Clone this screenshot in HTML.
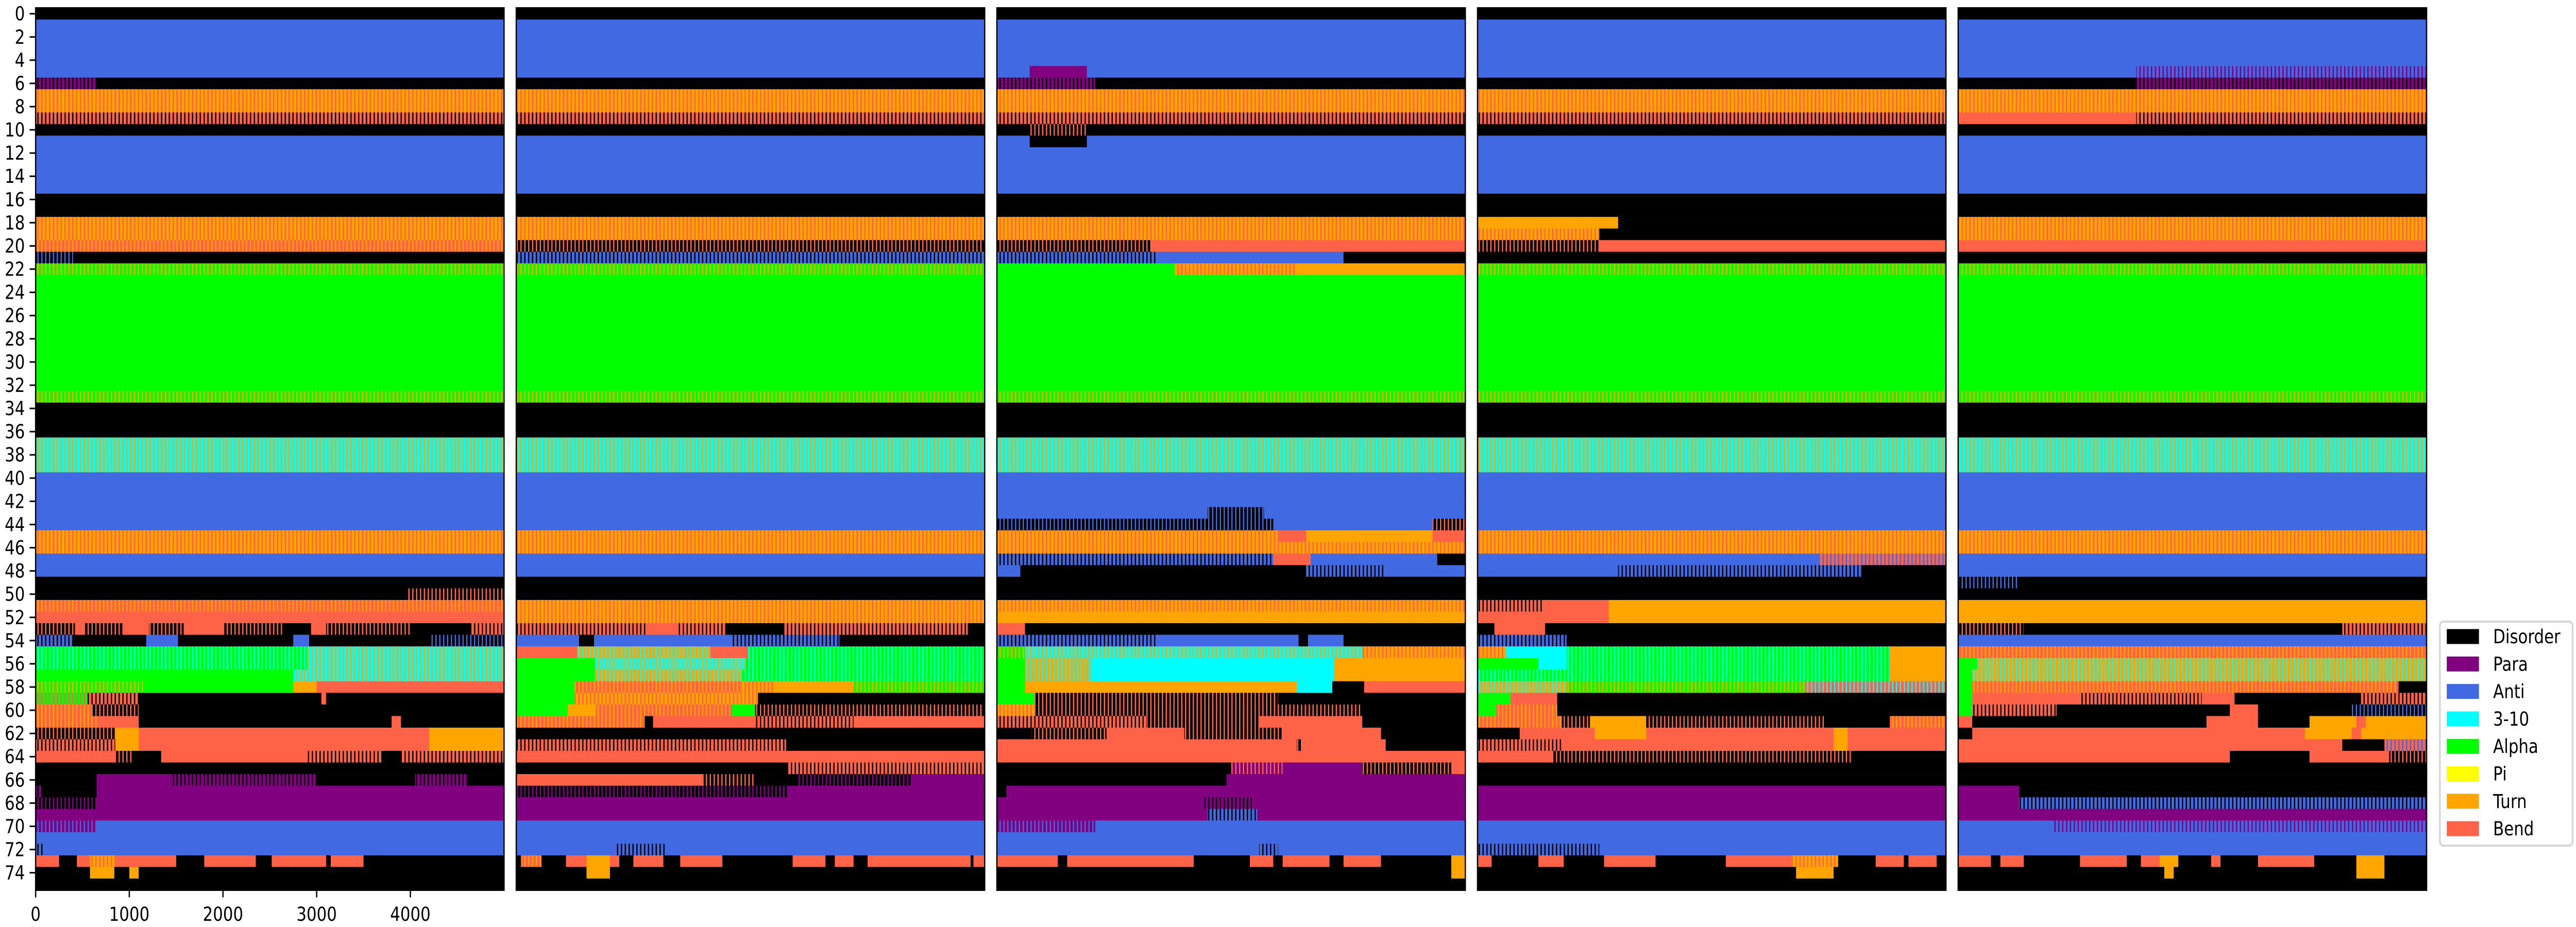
<!DOCTYPE html>
<html><head><meta charset="utf-8"><style>
html,body{margin:0;padding:0;background:#fff;overflow:hidden;width:100%;height:100%;}
svg{display:block;width:100vw;height:100vh;}
text{font-family:"DejaVu Sans","Liberation Sans",sans-serif;}
</style></head><body>
<svg id="chart" viewBox="0 0 6000 1800" preserveAspectRatio="none" xmlns="http://www.w3.org/2000/svg">
<defs id="defs"></defs>
<g id="panels"></g>
<g id="legend">
  <rect x="5683" y="1207" width="309" height="435" rx="8" fill="#fff" stroke="#d6d6d6" stroke-width="4"/>
</g>
</svg>
<script>
const categories = ["Disorder","Para","Anti","3-10","Alpha","Pi","Turn","Bend"];
const codes = ["D","P","A","G","H","I","T","S"];
const colors = {D:"#000000",P:"#800080",A:"#4169E1",G:"#00FFFF",H:"#00FF00",I:"#FFFF00",T:"#FFA500",S:"#FF6347"};
const xTicks = [0,1000,2000,3000,4000];
const frameMax = 5000;
const nRows = 76;

const baseUpper = ["D","A","A","A","A","A","D","T/S","T/S","S/D","D","A","A","A","A","A","D","D","T/S","T/S","S","D","H/T",
"H","H","H","H","H","H","H","H","H","H","H/T","D","D","D","G/T","G/T","G/T","A","A","A","A","A","T/S","T/S"];

const upper1 = {6:"P/D@0 D@650", 9:"S/D", 19:"T/S", 20:"S/T", 21:"D/A@0 D@400"};
const upper2 = {20:"D/S", 21:"A/D"};
const upper3 = {5:"A@0 P@350 A@960", 6:"P/D@0 D@1050", 10:"D@0 D/S@350 D@950", 11:"A@0 D@350 A@960", 20:"D/S@0 S@1650", 21:"A/D@0 A@1700 D@3700", 22:"H@0 T/S@1900 T@3200", 43:"A@0 D/A@2250 A@2850", 44:"D/A@0 A@2950 D/S@4650", 45:"T/S@0 S@3000 T@3300 S@4650"};
const upper4 = {18:"T@0 D@1500", 19:"T/S@0 D@1300", 20:"D/S@0 S@1300"};
const upper5 = {5:"A@0 A/P@1900", 6:"D@0 P/D@1900", 9:"S@0 S/D@1900"};

const lower1 = ["A","A","D","D@0 D/S@3950","S/T","S",
"D/S@0 S@420 D/S@520 S@940 D/S@1210 S@1580 D/S@2000 D@2630 S@2940 D/S@3100 D@4000 S/D@4650",
"A/D@0 D@400 A@1180 D@1520 A@2750 D@2920 D/A@4200",
"H/G@0 G/T@2900","H/G@0 G/T@2900","H@0 G/T@2750","H/T@0 H@1150 T@2750 S@3000",
"H/S@0 S/D@550 D@1100 S@3050 D@3100","S/T@0 D/S@600 D@1100","S/T@0 S@650 D@1100 S@3800 D@3900",
"D/S@0 T@850 S@1100 T@4200","S/D@0 T@850 S@1100 T@4200","S@0 D/S@850 D@1050 S@1340 S/D@2900 D@3700 S/D@3900",
"D","D@0 P@650 P/D@1450 D@3000 P/D@4050 D@4600","P/D@0 D@70 P@650","D/P@0 P@650","P","P/A@0 A@650","A","A/D@0 A@100",
"S@0 D@250 S@440 T/S@580 S@850 D@1500 S@1800 D@2350 S@2520 D@3100 S@3150 D@3500",
"D@0 T@580 D@840 T@1000 D@1100","D"];
const lower2 = ["A","A","D","D","T/S","T/S",
"S/D@0 S@1390 S/D@1730 D@2240 S/D@2850 D@4820",
"A@0 D@670 A@830 A/D@2300 D@3450",
"S@0 T/G@650 S@2070 H/G@2470","H@0 G/T@840 H/G@2450","H@0 T/G@840 H/G@2400","H@0 S/T@620 T/S@2400 T@2750 H/T@3600",
"H@0 T/S@620 D@2580","H@0 T@550 S/T@850 H@2300 D/S@2550","S/T@0 D@1370 S@1460 S/D@2550 S@3600",
"D","S/D@0 D@2880","S","D@0 S/D@2900","S@0 D/S@2000 D@2550 D/P@3000 P@4220","D/P@0 P@2900","P","P","A","A","A@0 A/D@1050 A@1600",
"D@0 S/T@50 D@270 S@530 T@750 S@1000 D@1100 S@1250 D@1570 S@1750 D@2200 S@2950 D@3300 S@3400 D@3600 S@3750 D@4850 S@4880",
"D@0 T@750 D@1000","D"];
const lower3 = ["A/D@0 S@2950 A@3350 D@4700","A@0 D@250 A/D@3300 A@4150","D","D","T/S","T",
"S@0 D@300","A/D@0 A@1700 D@3220 A@3320 D@3700",
"H/T@0 G/T@300 T/S@3900","H@0 T/G@300 G@1000 T@3600","H@0 T/G@300 G@1000 T@3600","H@0 T@300 G@3200 D@3580 S@3920",
"H@0 D/S@400 D@3000","T/S@0 D/S@400 D@3900","S/D@0 D/S@1600 S@2800 D@3900",
"D@0 D/S@370 S@1170 D/S@2000 S@3050 D@4100","S@0 D/S@3200 S@3250 D@4150","S",
"D@0 P/S@2500 P@3050 D/S@3900 S@4850","D@0 P@2450","D@0 P@100","P@0 P/D@2200 P@2750","P@0 A/D@2250 P@2780","P/A@0 A@1050","A","A@0 A/D@2800 A@3000",
"S@0 D@650 S@750 D@2100 S@2700 D@2950 S@3050 D@3550 S@3700 D@4100 T@4850",
"D@0 T@4850","D"];
const lower4 = ["A@0 S/A@3650","A@0 A/D@1500 D@4100","D","D","S/D@0 S@700 T@1400","S@0 T@1400",
"D@0 S@180 D@720","A/D@0 D@950",
"T/S@0 G@300 H/G@950 T@4400","H@0 G@650 H/G@950 T@4400","H/G@0 T@4400","T/G@0 H/T@950 S/G@3500",
"H@0 S@350 D@850","H@0 S/T@200 D@850","S/T@0 D/S@900 T@1200 D/S@1800 D@3700 S/T@4400",
"D@0 S@450 T@1250 S@1800 T@3800 S@3950","S/D@0 S@900 T@3800 S@3950","S@0 D/S@800 D@4000",
"D","D","P","P","P","A","A","A/D@0 A@1300",
"S@0 D@150 S@650 D@920 S@1350 D@1900 S@2650 T/S@3350 D@3850 S@4250 D@4550 S@4600 D@4900",
"D@0 T@3400 D@3800","D"];
const lower5 = ["A","A","D/A@0 D@650","D","T","T",
"D/S@0 D@700 S/D@4100","A",
"S/T","H@0 T/G@200","H@0 T/G@150","H@0 S/T@150 D@4700",
"H@0 S@150 S/D@1300 S@2600 D@2950 S/D@4300","H@0 S/D@150 D@1050 S@2900 D@3200 D/A@4200","S@0 D@150 S@2650 D@3200 T@3750 S@4250 T@4350",
"D@0 S@150 T@3700 S@4200 T@4300","S@0 D@4100 S/A@4550","S@0 D@2900 S@3750 D/S@4600",
"D","D","P@0 D@650","P@0 A/D@650","P","A@0 A/P@1000","A","A",
"S@0 D@350 S@450 D@700 S@1300 D@1800 S@1950 T@2150 D@2350 S@2700 D@2800 S@3200 D@3800 T@4250 D@4550",
"D@0 T@2200 D@2300 T@4250 D@4550","D"];

const uppers = [upper1, upper2, upper3, upper4, upper5];
const lowers = [lower1, lower2, lower3, lower4, lower5];

const NS = "http://www.w3.org/2000/svg";
const panelLeft0 = 83, panelStep = 1119.5, panelW = 1091;
const y0 = 26.7, rowH = 22.54;
function yScale(v){ return y0 + v*rowH; }
function xScale(p, f){ return panelLeft0 + p*panelStep + f/frameMax*panelW; }
function mk(tag, attrs, parent){ const e=document.createElementNS(NS,tag); for(const k in attrs) e.setAttribute(k,attrs[k]); if(parent) parent.appendChild(e); return e; }

const defs = document.getElementById('defs');
const patMade = {};
function fillFor(code){
  if(code.indexOf('/')<0) return colors[code];
  const [a,b] = code.split('/');
  const id = 'pat-'+a+'-'+b;
  if(!patMade[id]){
    const p = mk('pattern',{id:id,width:9,height:40,patternUnits:'userSpaceOnUse'},defs);
    mk('rect',{x:0,y:0,width:9,height:40,fill:colors[a]},p);
    mk('rect',{x:6,y:0,width:3,height:40,fill:colors[b]},p);
    patMade[id]=true;
  }
  return 'url(#'+id+')';
}
function parseRow(str){
  return str.split(' ').map(s=>{ const [c,f]=s.split('@'); return {code:c, start: f===undefined?0:+f}; });
}

const panelsG = document.getElementById('panels');
for(let p=0;p<5;p++){
  const g = mk('g',{},panelsG);
  
  
  for(let r=0;r<nRows;r++){
    let str;
    if(r<47) str = (uppers[p][r]!==undefined)? uppers[p][r] : baseUpper[r];
    else str = lowers[p][r-47];
    const segs = parseRow(str);
    const yTop = yScale(r-0.5), yBot = yScale(r+0.5);
    segs.forEach((s,i)=>{
      const end = i<segs.length-1 ? segs[i+1].start : frameMax;
      const x1 = xScale(p,s.start), x2 = xScale(p,end);
      const rc = mk('rect',{x:x1.toFixed(2),y:yTop.toFixed(2),width:(x2-x1+0.5).toFixed(2),height:(yBot-yTop+0.3).toFixed(2),fill:fillFor(s.code)},g);
      
      
    });
  }
  const fr = mk('rect',{x:xScale(p,0),y:yScale(-0.5),width:panelW,height:nRows*rowH,fill:'none',stroke:'#000','stroke-width':3},g);
  
  
}

const yAxis = mk('g',{},panelsG);


for(let r=0;r<=74;r+=2){
  const y = yScale(r);
  mk('line',{x1:69,x2:83,y1:y,y2:y,stroke:'#000','stroke-width':3},yAxis);
  const t = mk('text',{x:58,y:y+13,'font-size':37,'text-anchor':'end',fill:'#000'},yAxis);
  t.textContent = r;
  
  
}
const xAxis = mk('g',{},panelsG);


const yb = yScale(nRows-0.5);
xTicks.forEach(v=>{
  const x = xScale(0,v);
  mk('line',{x1:x,x2:x,y1:yb,y2:yb+14,stroke:'#000','stroke-width':3},xAxis);
  const t = mk('text',{x:x,y:1788,'font-size':37,'text-anchor':'middle',fill:'#000'},xAxis);
  t.textContent = v;
  
  
});

const lg = document.getElementById('legend');
categories.forEach((name,i)=>{
  const cy = 1236 + i*53.3;
  const e = mk('g',{},lg);
  
  
  mk('rect',{x:5699,y:cy-14.5,width:75,height:29,fill:colors[codes[i]]},e);
  const t = mk('text',{x:5807,y:cy+13,'font-size':37,fill:'#000'},e);
  t.textContent = name;
});
</script>
</body></html>
